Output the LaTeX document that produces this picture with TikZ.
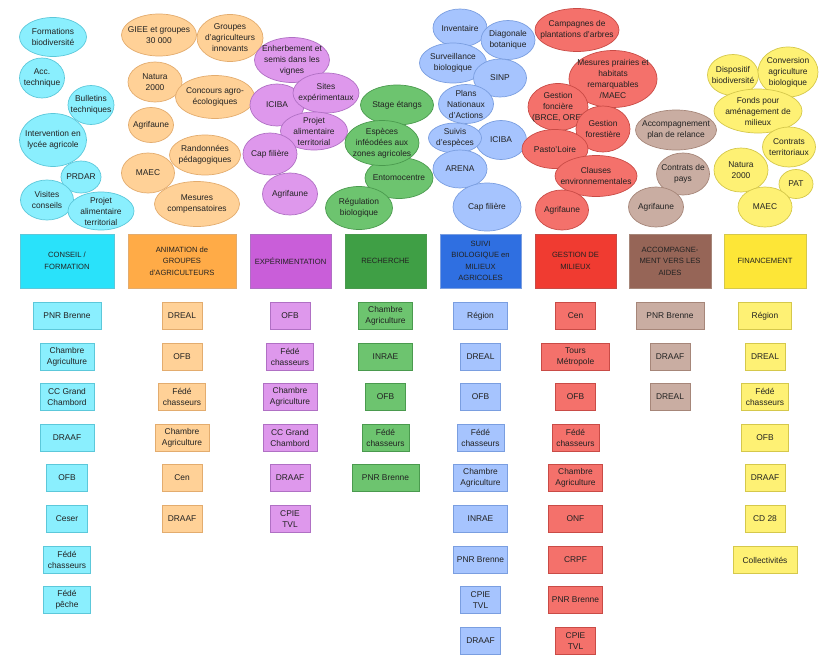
\documentclass[tikz,border=0pt]{standalone}
\usepackage{fontspec}
\setmainfont{Liberation Sans}
\usetikzlibrary{shapes.geometric}
\pgfdeclarelayer{bg}
\pgfsetlayers{bg,main}
% colours: H header, L light fill, B border
\definecolor{txt}{HTML}{222222}
\definecolor{cyH}{HTML}{29E2FA}\definecolor{cyL}{HTML}{8AEFFE}\definecolor{cyB}{HTML}{5CC8DA}
\definecolor{orH}{HTML}{FFAB47}\definecolor{orL}{HTML}{FFD197}\definecolor{orB}{HTML}{E3AC6E}
\definecolor{puH}{HTML}{C95ED9}\definecolor{puL}{HTML}{DE98EC}\definecolor{puB}{HTML}{B070C4}
\definecolor{grH}{HTML}{3F9F45}\definecolor{grL}{HTML}{6DC46F}\definecolor{grB}{HTML}{4A9A4E}
\definecolor{blH}{HTML}{2F6FE1}\definecolor{blL}{HTML}{A6C4FE}\definecolor{blB}{HTML}{7A9EE0}
\definecolor{reH}{HTML}{F03B31}\definecolor{reL}{HTML}{F4716B}\definecolor{reB}{HTML}{C94B46}
\definecolor{bwH}{HTML}{966557}\definecolor{bwL}{HTML}{C9ADA2}\definecolor{bwB}{HTML}{A68679}
\definecolor{yeH}{HTML}{FDE637}\definecolor{yeL}{HTML}{FEF174}\definecolor{yeB}{HTML}{D5C84B}
\tikzset{
  bub/.style={ellipse, inner sep=0pt, line width=0.7pt},
  btxt/.style={font=\fontsize{8.4}{11}\selectfont, align=center, text=txt, inner sep=0pt},
  head/.style={rectangle, minimum height=54pt, inner sep=0pt, line width=0.7pt,
    font=\fontsize{7.6}{11.5}\selectfont, align=center, text=txt},
  orgbox/.style={rectangle, minimum height=27pt, inner sep=0pt, line width=0.7pt,
    font=\fontsize{8.4}{11.4}\selectfont, align=center, text=txt},
  link/.style={line width=1.1pt},
  cyE/.style={fill=cyL, draw=cyB}, orE/.style={fill=orL, draw=orB},
  puE/.style={fill=puL, draw=puB}, grE/.style={fill=grL, draw=grB},
  blE/.style={fill=blL, draw=blB}, reE/.style={fill=reL, draw=reB},
  bwE/.style={fill=bwL, draw=bwB}, yeE/.style={fill=yeL, draw=yeB},
}
\newcommand{\bub}[6]{\node[bub,#2,minimum width=#4pt,minimum height=#5pt,label={[btxt]center:{#6}}] (#1) at (#3) {};}
\newcommand{\org}[5]{\node[orgbox,#2,minimum width=#4pt] (#1) at (#3) {#5};}
\begin{document}
\begin{tikzpicture}[x=1pt,y=-1pt]
\useasboundingbox (0,0) rectangle (826,669);
\fill[white] (0,0) rectangle (826,669);

% ---------- header boxes ----------
\node[head, fill=cyH, draw=cyB, minimum width=94pt] (hc) at (67,261) {CONSEIL /\\FORMATION};
\node[head, fill=orH, draw=orB, minimum width=108pt] (ho) at (182,261) {ANIMATION de\\GROUPES\\d'AGRICULTEURS};
\node[head, fill=puH, draw=puB, minimum width=81pt] (hp) at (290.5,261) {EXPÉRIMENTATION};
\node[head, fill=grH, draw=grB, minimum width=81pt] (hg) at (385.5,261) {RECHERCHE};
\node[head, fill=blH, draw=blB, minimum width=81pt] (hb) at (480.5,261) {SUIVI\\BIOLOGIQUE en\\MILIEUX\\AGRICOLES};
\node[head, fill=reH, draw=reB, minimum width=81pt] (hr) at (575.5,261) {GESTION DE\\MILIEUX};
\node[head, fill=bwH, draw=bwB, minimum width=82pt] (hw) at (670,261) {ACCOMPAGNE-\\MENT VERS LES\\AIDES};
\node[head, fill=yeH, draw=yeB, minimum width=82pt] (hy) at (765,261) {FINANCEMENT};

% ---------- cyan ----------
\bub{c1}{cyE}{53,37}{67}{39}{Formations\\biodiversité}
\bub{c2}{cyE}{42,78}{45}{40}{Acc.\\technique}
\bub{c3}{cyE}{91,105}{46}{39}{Bulletins\\techniques}
\bub{c4}{cyE}{53,140}{67}{53}{Intervention en\\lycée agricole}
\bub{c5}{cyE}{81,177}{40}{32}{PRDAR}
\bub{c6}{cyE}{47,200}{53}{40}{Visites\\conseils}
\bub{c7}{cyE}{101,211}{66}{38}{Projet\\alimentaire\\territorial}

% ---------- orange ----------
\bub{o1}{orE}{159,35}{75}{42}{GIEE et groupes\\30 000}
\bub{o2}{orE}{230,38}{66}{47}{Groupes\\d'agriculteurs\\innovants}
\bub{o3}{orE}{155,82}{54}{40}{Natura\\2000}
\bub{o4}{orE}{215,97}{79}{43}{Concours agro-\\écologiques}
\bub{o5}{orE}{151,125}{45}{35}{Agrifaune}
\bub{o6}{orE}{205,155}{71}{40}{Randonnées\\pédagogiques}
\bub{o7}{orE}{148,173}{53}{40}{MAEC}
\bub{o8}{orE}{197,204}{85}{45}{Mesures\\compensatoires}

% ---------- purple ----------
\bub{p1}{puE}{292,60}{75}{45}{Enherbement et\\semis dans les\\vignes}
\bub{p3}{puE}{277,105}{54}{42}{ICIBA}
\bub{p2}{puE}{326,93}{66}{40}{Sites\\expérimentaux}
\bub{p4}{puE}{314,131}{67}{38}{Projet\\alimentaire\\territorial}
\bub{p5}{puE}{270,154}{54}{42}{Cap filière}
\bub{p6}{puE}{290,194}{55}{42}{Agrifaune}

% ---------- green ----------
\bub{g1}{grE}{397,105}{73}{40}{Stage étangs}
\bub{g3}{grE}{399,178}{68}{41}{Entomocentre}
\bub{g2}{grE}{382,143}{74}{45}{Espèces\\inféodées aux\\zones agricoles}
\bub{g4}{grE}{359,208}{67}{43}{Régulation\\biologique}

% ---------- blue ----------
\bub{b1}{blE}{460,28}{54}{38}{Inventaire}
\bub{b2}{blE}{508,40}{54}{39}{Diagonale\\botanique}
\bub{b3}{blE}{453,63}{67}{40}{Surveillance\\biologique}
\bub{b4}{blE}{500,78}{53}{38}{SINP}
\bub{b5}{blE}{466,104}{55}{39}{Plans\\Nationaux\\d'Actions}
\bub{b7}{blE}{501,140}{51}{39}{ICIBA}
\bub{b6}{blE}{455,138}{53}{30}{Suivis\\d'espèces}
\bub{b8}{blE}{460,169}{54}{38}{ARENA}
\bub{b9}{blE}{487,207}{68}{48}{Cap filière}

% ---------- red ----------
\bub{r1}{reE}{577,30}{84}{43}{Campagnes de\\plantations d'arbres}
\bub{r2}{reE}{613,79}{88}{57}{Mesures prairies et\\habitats\\remarquables\\/MAEC}
\bub{r3}{reE}{558,107}{60}{47}{Gestion\\foncière\\(BRCE, ORE)}
\bub{r4}{reE}{603,129}{54}{46}{Gestion\\forestière}
\bub{r5}{reE}{555,149}{66}{39}{Pasto'Loire}
\bub{r6}{reE}{596,176}{82}{41}{Clauses\\environnementales}
\bub{r7}{reE}{562,210}{53}{40}{Agrifaune}

% ---------- brown ----------
\bub{w1}{bwE}{676,130}{81}{40}{Accompagnement\\plan de relance}
\bub{w2}{bwE}{683,174}{53}{42}{Contrats de\\pays}
\bub{w3}{bwE}{656,207}{55}{40}{Agrifaune}

% ---------- yellow ----------
\bub{y1}{yeE}{733,75}{51}{41}{Dispositif\\biodiversité}
\bub{y2}{yeE}{788,72}{60}{50}{Conversion\\agriculture\\biologique}
\bub{y3}{yeE}{758,111}{88}{44}{Fonds pour\\aménagement de\\milieux}
\bub{y4}{yeE}{789,147}{53}{40}{Contrats\\territoriaux}
\bub{y5}{yeE}{741,170}{54}{44}{Natura\\2000}
\bub{y6}{yeE}{796,184}{34}{29}{PAT}
\bub{y7}{yeE}{765,207}{54}{40}{MAEC}

% ---------- connectors ----------
\begin{pgfonlayer}{bg}
\draw[link, cyL] (hc.north) -- (c1.center);
\draw[link, orL] (ho.north) -- (o1.center);
\draw[link, orL] (ho.north) -- (o2.center);
\draw[link, puL] (hp.north) -- (p1.center);
\draw[link, grL] (hg.north) -- (g1.center);
\draw[link, blL] (hb.north) -- (b2.center);
\draw[link, reL] (hr.north) -- (r2.center);
\draw[link, bwL] (hw.north) -- (w1.center);
\draw[link, yeL] (hy.north) -- (y1.center);
\draw[link, yeL] (hy.north) -- (y2.center);
\end{pgfonlayer}

% ---------- partner boxes ----------
% cyan column
\org{k1}{cyE}{67,316}{68}{PNR Brenne}
\org{k2}{cyE}{67,357}{54}{Chambre\\Agriculture}
\org{k3}{cyE}{67,397}{54}{CC Grand\\Chambord}
\org{k4}{cyE}{67,438}{54}{DRAAF}
\org{k5}{cyE}{67,478}{41}{OFB}
\org{k6}{cyE}{67,519}{41}{Ceser}
\org{k7}{cyE}{67,560}{47}{Fédé\\chasseurs}
\org{k8}{cyE}{67,600}{47}{Fédé\\pêche}
% orange column
\org{m1}{orE}{182,316}{40}{DREAL}
\org{m2}{orE}{182,357}{40}{OFB}
\org{m3}{orE}{182,397}{47}{Fédé\\chasseurs}
\org{m4}{orE}{182,438}{54}{Chambre\\Agriculture}
\org{m5}{orE}{182,478}{40}{Cen}
\org{m6}{orE}{182,519}{40}{DRAAF}
% purple column
\org{q1}{puE}{290,316}{40}{OFB}
\org{q2}{puE}{290,357}{47}{Fédé\\chasseurs}
\org{q3}{puE}{290,397}{54}{Chambre\\Agriculture}
\org{q4}{puE}{290,438}{54}{CC Grand\\Chambord}
\org{q5}{puE}{290,478}{40}{DRAAF}
\org{q6}{puE}{290,519}{40}{CPIE\\TVL}
% green column
\org{n1}{grE}{385.5,316}{54}{Chambre\\Agriculture}
\org{n2}{grE}{385.5,357}{54}{INRAE}
\org{n3}{grE}{385.5,397}{40}{OFB}
\org{n4}{grE}{385.5,438}{47}{Fédé\\chasseurs}
\org{n5}{grE}{385.5,478}{67}{PNR Brenne}
% blue column
\org{s1}{blE}{480.5,316}{54}{Région}
\org{s2}{blE}{480.5,357}{40}{DREAL}
\org{s3}{blE}{480.5,397}{40}{OFB}
\org{s4}{blE}{480.5,438}{47}{Fédé\\chasseurs}
\org{s5}{blE}{480.5,478}{54}{Chambre\\Agriculture}
\org{s6}{blE}{480.5,519}{54}{INRAE}
\org{s7}{blE}{480.5,560}{54}{PNR Brenne}
\org{s8}{blE}{480.5,600}{40}{CPIE\\TVL}
\org{s9}{blE}{480.5,641}{40}{DRAAF}
% red column
\org{t1}{reE}{575.5,316}{40}{Cen}
\org{t2}{reE}{575.5,357}{68}{Tours\\Métropole}
\org{t3}{reE}{575.5,397}{40}{OFB}
\org{t4}{reE}{575.5,438}{47}{Fédé\\chasseurs}
\org{t5}{reE}{575.5,478}{54}{Chambre\\Agriculture}
\org{t6}{reE}{575.5,519}{54}{ONF}
\org{t7}{reE}{575.5,560}{54}{CRPF}
\org{t8}{reE}{575.5,600}{54}{PNR Brenne}
\org{t9}{reE}{575.5,641}{40}{CPIE\\TVL}
% brown column
\org{u1}{bwE}{670,316}{68}{PNR Brenne}
\org{u2}{bwE}{670,357}{40}{DRAAF}
\org{u3}{bwE}{670,397}{40}{DREAL}
% yellow column
\org{v1}{yeE}{765,316}{53}{Région}
\org{v2}{yeE}{765,357}{40}{DREAL}
\org{v3}{yeE}{765,397}{47}{Fédé\\chasseurs}
\org{v4}{yeE}{765,438}{47}{OFB}
\org{v5}{yeE}{765,478}{40}{DRAAF}
\org{v6}{yeE}{765,519}{40}{CD 28}
\org{v7}{yeE}{765,560}{64}{Collectivités}
\end{tikzpicture}
\end{document}
